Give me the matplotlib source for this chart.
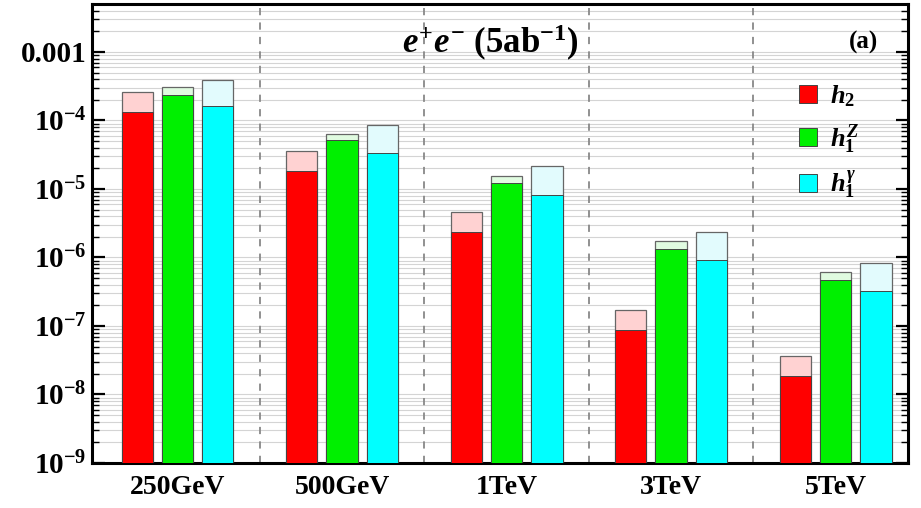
import matplotlib
matplotlib.use("Agg")
import matplotlib.pyplot as plt
import numpy as np
from matplotlib.patches import Patch
from matplotlib.ticker import LogLocator, FixedLocator, NullFormatter

plt.rcParams['font.family'] = ['Liberation Serif', 'DejaVu Serif']
plt.rcParams['font.weight'] = 'bold'
plt.rcParams['mathtext.fontset'] = 'custom'
plt.rcParams['mathtext.rm'] = 'Liberation Serif:bold'
plt.rcParams['mathtext.bf'] = 'Liberation Serif:bold'
plt.rcParams['mathtext.it'] = 'Liberation Serif:bold:italic'

energies = ["250GeV", "500GeV", "1TeV", "3TeV", "5TeV"]

# dark part (lower value) and light part (upper value) of each bar
h2_low = [1.35e-4, 1.8e-5, 2.35e-6, 8.8e-8, 1.85e-8]
h2_high = [2.64e-4, 3.6e-5, 4.66e-6, 1.7e-7, 3.6e-8]
h1z_low = [2.39e-4, 5.1e-5, 1.22e-5, 1.33e-6, 4.7e-7]
h1z_high = [3.05e-4, 6.45e-5, 1.57e-5, 1.72e-6, 6.1e-7]
h1g_low = [1.6e-4, 3.4e-5, 8.1e-6, 9.1e-7, 3.2e-7]
h1g_high = [3.86e-4, 8.6e-5, 2.13e-5, 2.35e-6, 8.4e-7]

series = [
    (r"$h_2$", h2_low, h2_high, "#ff0000", "#ffd2d2"),
    (r"$h_1^Z$", h1z_low, h1z_high, "#00f000", "#e0fbe0"),
    (r"$h_1^\gamma$", h1g_low, h1g_high, "#00ffff", "#e2fbfd"),
]

fig = plt.figure(figsize=(9.21, 5.08), dpi=100)
ax = fig.add_axes([0.0999, 0.0886, 0.886, 0.9034])

x = np.arange(len(energies))
w = 0.19
offs = [-0.245, 0.0, 0.245]
handles = []
for (lab, lo, hi, c, cl), o in zip(series, offs):
    ax.bar(x + o, hi, width=w, color=cl, edgecolor="#666666", linewidth=0.9, zorder=3)
    ax.bar(x + o, lo, width=w, color=c, edgecolor="#444444", linewidth=0.7, zorder=4)
    handles.append(Patch(facecolor=c, edgecolor="#444444", linewidth=0.7, label=lab))

ax.set_yscale("log")
ax.set_ylim(1e-9, 5e-3)
ax.set_xlim(-0.52, 4.44)

for s in [0.5, 1.5, 2.5, 3.5]:
    ax.axvline(s, color="#888888", lw=1.3, ls=(0, (4, 4)), zorder=2)

ax.set_xticks(x)
ax.set_xticklabels(energies, fontsize=20, fontweight="bold")
ax.tick_params(axis="x", length=0, pad=9)

majors = [1e-9, 1e-8, 1e-7, 1e-6, 1e-5, 1e-4, 1e-3]
ylabels = [r"$10^{-9}$", r"$10^{-8}$", r"$10^{-7}$", r"$10^{-6}$",
           r"$10^{-5}$", r"$10^{-4}$", "0.001"]
ax.yaxis.set_major_locator(FixedLocator(majors))
ax.set_yticklabels(ylabels, fontsize=21, fontweight="bold")
ax.yaxis.set_minor_locator(LogLocator(base=10, subs=np.arange(2, 10), numticks=20))
ax.yaxis.set_minor_formatter(NullFormatter())
ax.tick_params(axis="y", which="major", direction="in", length=9, width=1.6,
               left=True, right=True, pad=4)
ax.tick_params(axis="y", which="minor", direction="in", length=5, width=1.0,
               left=True, right=True)

ax.grid(True, axis="y", which="both", color="#d4d4d4", lw=0.8, zorder=1)

for sp in ax.spines.values():
    sp.set_linewidth(2.2)

ax.text(0.488, 0.915, r"$e^{+}e^{-}$ (5ab$^{-1}$)", transform=ax.transAxes,
        fontsize=25, fontweight="bold", ha="center", va="center", zorder=6)
ax.text(0.946, 0.917, "(a)", transform=ax.transAxes,
        fontsize=18, fontweight="bold", ha="center", va="center", zorder=6)

leg = ax.legend(handles=handles, loc="upper left", bbox_to_anchor=(0.853, 0.85),
                frameon=False, fontsize=19, handlelength=0.7, handleheight=0.7,
                handletextpad=0.5, labelspacing=0.5, borderaxespad=0)
leg.set_zorder(6)

fig.savefig("out.png", dpi=100)
